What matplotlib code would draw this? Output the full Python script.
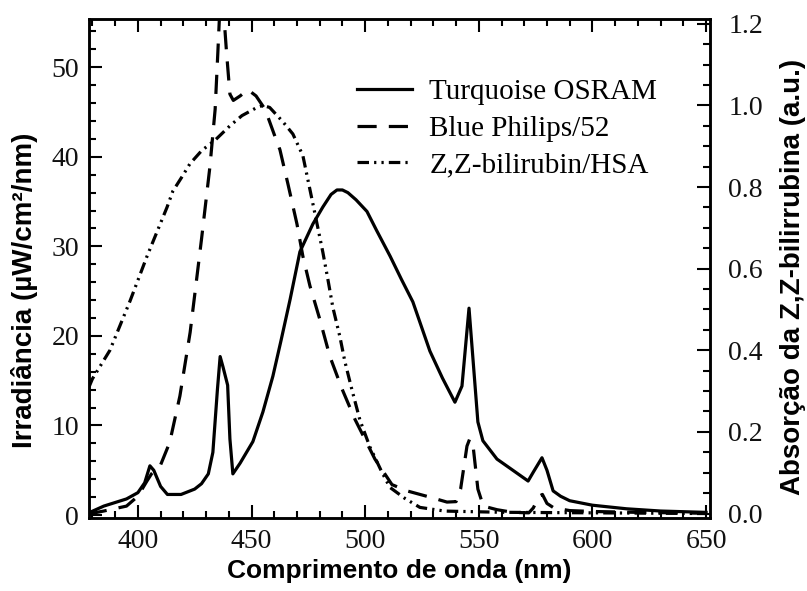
import numpy as np
import matplotlib
matplotlib.use("Agg")
import matplotlib.pyplot as plt
from matplotlib.ticker import MultipleLocator

# Turquoise OSRAM lamp, irradiance (uW/cm2/nm)
wl_turq = [378, 385, 395, 400, 403, 405.3, 407, 410, 413, 419, 425, 428, 431, 433, 435,
           436.2, 437.5, 439.5, 440.5, 441.8, 445, 450.6, 455, 459.4, 463, 467, 471.3, 477,
           481.4, 485, 487.6, 490, 492.4, 496, 500.8, 505, 511, 516, 521, 528.5, 534,
           539.5, 542.6, 545.7, 549.6, 551.8, 558, 565, 571.7, 574, 577.8, 580, 582.7,
           586, 590, 600, 615, 630, 650]
irr_turq = [0.2, 1.0, 1.8, 2.5, 3.6, 5.5, 5.0, 3.2, 2.3, 2.3, 2.9, 3.5, 4.6, 7.0, 14.0,
            17.7, 16.5, 14.5, 8.5, 4.6, 5.8, 8.2, 11.5, 15.5, 19.5, 24.1, 29.4, 32.5,
            34.4, 35.8, 36.3, 36.3, 36.0, 35.2, 33.9, 31.8, 28.9, 26.3, 23.8, 18.3, 15.3,
            12.6, 14.4, 23.1, 10.4, 8.3, 6.25, 5.0, 3.8, 4.8, 6.4, 5.0, 2.7,
            2.1, 1.6, 1.1, 0.7, 0.45, 0.3]

# Blue Philips/52 lamp, irradiance (uW/cm2/nm)
wl_blue = [378, 385, 395, 400, 404, 406, 410, 414, 418.5, 423, 428, 431.7, 434, 435.2,
           436.5, 437.8, 439, 440.5, 442, 445, 448.4, 452, 456, 460, 462.5, 466, 470,
           472.6, 475.7, 480, 484.5, 489.8, 495.5, 504.3, 511.8, 518.4, 528.5, 536, 540,
           542, 544.8, 546, 547.5, 549.6, 552, 558, 565, 572, 574, 576.5, 578, 580, 583,
           590, 600, 620, 650]
irr_blue = [0.1, 0.45, 1.0, 2.1, 3.8, 4.6, 5.6, 8.1, 13.3, 20.4, 30.8, 38.9, 45.3, 51.7,
            59.0, 56.0, 51.7, 47.0, 46.3, 46.8, 47.5, 46.8, 45.3, 42.5, 40.8, 37.0, 32.5,
            28.9, 25.6, 21.9, 17.7, 14.1, 10.7, 6.25, 3.4, 2.7, 2.0, 1.45, 1.5,
            2.9, 7.7, 8.5, 7.7, 2.9, 1.0, 0.6, 0.3, 0.25, 0.8, 2.1, 2.3, 1.3, 0.8,
            0.5, 0.4, 0.3, 0.2]

# Z,Z-bilirubin/HSA absorption (a.u.)
wl_bili = [378.5, 380, 387.7, 396.5, 404, 408.4, 412.8, 415.4, 419.4, 422.9, 428.2, 434,
           440.5, 445.8, 452.4, 455, 458, 463.8, 468.2, 472.6, 476.6, 479.2, 481.4, 483.6,
           485.8, 488.9, 491.1, 494.2, 497.7, 502.1, 507.4, 510.9, 517.5, 524.1, 535, 560, 650]
abs_bili = [0.31, 0.33, 0.40, 0.52, 0.63, 0.69, 0.75, 0.79, 0.825, 0.857, 0.89, 0.915,
            0.95, 0.975, 0.995, 1.0, 0.995, 0.96, 0.93, 0.877, 0.77, 0.70, 0.64, 0.574,
            0.505, 0.433, 0.372, 0.303, 0.229, 0.163, 0.101, 0.064, 0.037, 0.015, 0.006, 0.003, 0.0]

serif = "Liberation Serif"
sans = "Liberation Sans"

fig = plt.figure(figsize=(8.07, 5.91), dpi=100)
ax = fig.add_axes([0.110, 0.1235, 0.770, 0.8445])
ax2 = ax.twinx()

lw = 2.3
l1, = ax.plot(wl_turq, irr_turq, color="black", lw=lw, label="Turquoise OSRAM")
l2, = ax.plot(wl_blue, irr_blue, color="black", lw=lw, linestyle=(0, (6, 3.8)),
              label="Blue Philips/52")
l3, = ax2.plot(wl_bili, abs_bili, color="black", lw=lw,
               linestyle=(0, (3.6, 1.6, 0.7, 1.6, 0.7, 1.6)), label="Z,Z-bilirubin/HSA")

ax.set_xlim(378.4, 651.8)
ax.set_ylim(-0.33, 55.4)
ax2.set_ylim(-0.011, 1.212)

ax.xaxis.set_major_locator(MultipleLocator(50))
ax.xaxis.set_minor_locator(MultipleLocator(10))
ax.yaxis.set_major_locator(MultipleLocator(10))
ax.yaxis.set_minor_locator(MultipleLocator(2))
ax2.yaxis.set_major_locator(MultipleLocator(0.2))
ax2.yaxis.set_minor_locator(MultipleLocator(0.05))
ax2.yaxis.set_major_formatter(matplotlib.ticker.FormatStrFormatter("%.1f"))

for a in (ax, ax2):
    for s in a.spines.values():
        s.set_linewidth(1.8)

ax.tick_params(axis="x", which="both", direction="in", top=True, bottom=True, width=1.5,
               pad=8)
ax.tick_params(axis="y", which="both", direction="in", left=True, right=False, width=1.5,
               pad=7)
ax2.tick_params(axis="y", which="both", direction="in", right=True, width=1.5, pad=13)
for a in (ax, ax2):
    a.tick_params(which="major", length=9.5)
    a.tick_params(which="minor", length=5)
    for lab in a.get_xticklabels() + a.get_yticklabels():
        lab.set_fontfamily(serif)
        lab.set_fontsize(20)
        lab.set_color("#111111")

ax.set_xlabel("Comprimento de onda (nm)", fontfamily=sans, fontweight="bold", fontsize=19)
ax.set_ylabel("Irradiância (µW/cm²/nm)", fontfamily=sans, fontweight="bold", fontsize=20)
ax2.set_ylabel("Absorção da Z,Z-bilirrubina (a.u.)", fontfamily=sans, fontweight="bold",
               fontsize=20)
ax.xaxis.set_label_coords(0.5, -0.083)
ax.xaxis.label.set_verticalalignment("top")
ax.yaxis.set_label_coords(-0.082, 0.457)
ax2.yaxis.set_label_coords(1.113, 0.483)

leg = ax.legend(handles=[l1, l2, l3], loc="upper left", bbox_to_anchor=(0.4316, 0.880),
                frameon=False, borderpad=0, borderaxespad=0, handlelength=1.9,
                handletextpad=0.58, labelspacing=0.35,
                prop={"family": serif, "size": 21})

fig.savefig("out.png", dpi=100)
